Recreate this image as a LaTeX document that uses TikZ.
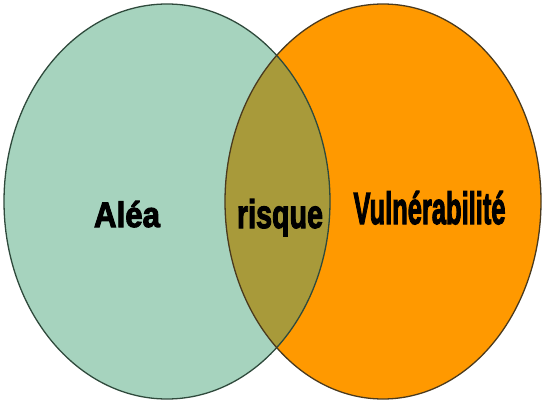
\documentclass[tikz,border=0pt]{standalone}
\usepackage{fontspec}
\newfontfamily\heavy[UprightFont={* Bold},UprightFeatures={FakeBold=3}]{Liberation Sans}
\definecolor{teal1}{HTML}{A6D3BE}
\definecolor{orange1}{HTML}{FF9900}
\definecolor{olive1}{HTML}{A89A3A}
\definecolor{lborder}{HTML}{2F4A3C}
\definecolor{rborder}{HTML}{4A3A1E}
\tikzset{
  label text/.style={inner sep=0pt, anchor=base, text=black},
  outline/.style={line width=1.3pt}
}
\begin{document}
\begin{tikzpicture}[x=1pt,y=-1pt]
\useasboundingbox (0,0) rectangle (543,401);
% fills
\fill[teal1] (167,201.5) ellipse [x radius=163, y radius=197.5];
\fill[orange1] (383,201.5) ellipse [x radius=158, y radius=197.5];
\begin{scope}
  \clip (167,201.5) ellipse [x radius=163, y radius=197.5];
  \fill[olive1] (383,201.5) ellipse [x radius=158, y radius=197.5];
\end{scope}
% outlines
\draw[outline, draw=lborder] (167,201.5) ellipse [x radius=163, y radius=197.5];
\draw[outline, draw=rborder] (383,201.5) ellipse [x radius=158, y radius=197.5];
% labels
\node[label text] (alea) at (127,227) {\resizebox{66pt}{26pt}{\heavy Aléa}};
\node[label text] (risque) at (280,228) {\resizebox{86pt}{29pt}{\heavy risque}};
\node[label text] (vuln) at (429.5,224) {\resizebox{152pt}{33pt}{\heavy Vulnérabilité}};
\end{tikzpicture}
\end{document}
